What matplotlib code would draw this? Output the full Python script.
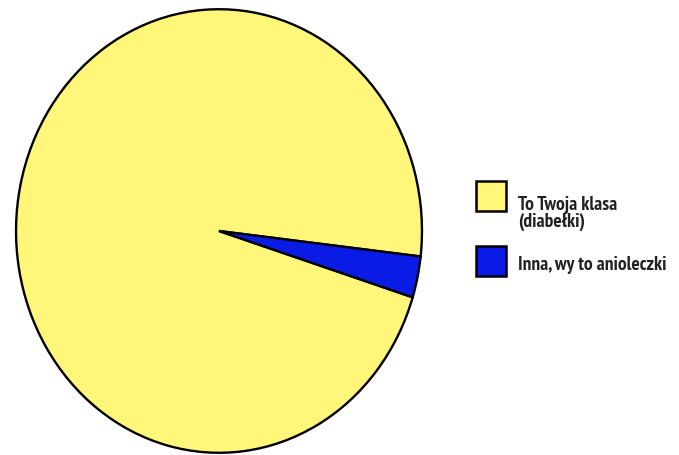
import matplotlib.pyplot as plt
from matplotlib.patches import Rectangle

labels = ["To Twoja klasa\n(diabełki)", "Inna, wy to anioleczki"]
values = [97, 3]
colors = ["#fff67a", "#0a1be6"]

W, H = 679, 456


def main():
    plt.rcParams['font.family'] = ['Liberation Sans', 'DejaVu Sans']

    fig = plt.figure(figsize=(W / 100, H / 100), dpi=100)
    # pie is drawn slightly squashed (ellipse), so aspect left to the axes box
    ax = fig.add_axes([14 / W, 0 / H, 410 / W, 448 / H])
    wedges, _ = ax.pie(values, colors=colors, startangle=-6.6, counterclock=True,
                       wedgeprops=dict(edgecolor="black", linewidth=1.7))
    ax.set_aspect('auto')
    ax.set_xlim(-1.01, 1.01)
    ax.set_ylim(-1.01, 1.01)
    ax.axis('off')

    # legend drawn by hand: squares plus narrow bold labels
    box_tops = [182, 247]
    text_base = [227, 270]
    for lab, col, top, base in zip(labels, colors, box_tops, text_base):
        fig.patches.append(Rectangle((476 / W, 1 - (top + 30) / H), 30 / W, 30 / H,
                                     transform=fig.transFigure, facecolor=col,
                                     edgecolor="black", linewidth=1.8))
        fig.text(518 / W, 1 - base / H, lab, ha='left', va='baseline',
                 fontsize=14, weight='bold', linespacing=0.95,
                 family=['PT Sans Narrow', 'Roboto Condensed', 'Liberation Sans'],
                 color="#222222")

    fig.savefig("out.png", dpi=100)


if __name__ == '__main__':
    main()
